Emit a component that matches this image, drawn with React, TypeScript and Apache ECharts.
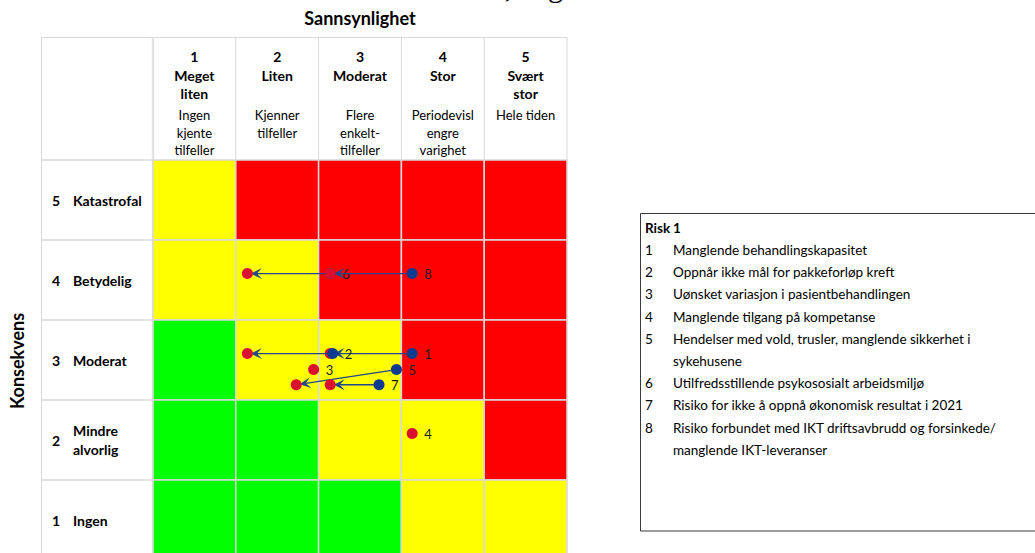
import React, { useEffect, useRef } from "react";
import * as echarts from "echarts";

// Likelihood columns (header) and consequence rows
const likelihoodNumbers = ["1", "2", "3", "4", "5"];
const likelihoodNames = [["Meget", "liten"], ["Liten"], ["Moderat"], ["Stor"], ["Svært", "stor"]];
const likelihoodDescriptions = [
  ["Ingen", "kjente", "tilfeller"],
  ["Kjenner", "tilfeller"],
  ["Flere", "enkelt-", "tilfeller"],
  ["Periodevisl", "engre", "varighet"],
  ["Hele tiden"],
];
const consequenceNumbers = ["5", "4", "3", "2", "1"];
const consequenceNames = [["Katastrofal"], ["Betydelig"], ["Moderat"], ["Mindre", "alvorlig"], ["Ingen"]];

// Risk level per cell: rows are consequence 5..1, columns likelihood 1..5 (0 green, 1 yellow, 2 red)
const riskLevels = [
  [1, 2, 2, 2, 2],
  [1, 1, 2, 2, 2],
  [0, 1, 1, 2, 2],
  [0, 0, 1, 1, 2],
  [0, 0, 0, 1, 1],
];
const levelColors = ["#00ff00", "#ffff00", "#ff0000"];

// Risks: initial position (blue) and position after measures (red)
const riskIds = ["1", "2", "3", "4", "5", "6", "7", "8"];
const initialLikelihood = [3.63, 2.67, null, null, 3.44, 2.64, 3.23, 3.63];
const initialConsequence = [3.08, 3.08, null, null, 2.88, 4.08, 2.69, 4.08];
const targetLikelihood = [2.64, 1.64, 2.44, 3.63, 2.23, 1.64, 2.64, 2.64];
const targetConsequence = [3.08, 3.08, 2.88, 2.08, 2.69, 4.08, 2.69, 4.08];
const riskNames = [
  "Manglende behandlingskapasitet",
  "Oppnår ikke mål for pakkeforløp kreft",
  "Uønsket variasjon i pasientbehandlingen",
  "Manglende tilgang på kompetanse",
  "Hendelser med vold, trusler, manglende sikkerhet i sykehusene",
  "Utilfredsstillende psykososialt arbeidsmiljø",
  "Risiko for ikke å oppnå økonomisk resultat i 2021",
  "Risiko forbundet med IKT driftsavbrudd og forsinkede/ manglende IKT-leveranser",
];

const FONT = "Lato, 'Noto Sans', sans-serif";
const LINE = "#d9d9d9";
const BLUE = "#0c3b8f";
const RED = "#db0f2f";
const ARROW = "#23458e";

// Table geometry; the bottom row runs past the visible area
const VIEW_W = 1035;
const VIEW_H = 553;
const TABLE_LEFT = 41;
const TABLE_TOP = 37;
const GRID_LEFT = 153;
const GRID_TOP = 160;
const CELL_W = 82.8;
const CELL_H = 80;
const CHART_H = GRID_TOP + CELL_H * 5;

function wrapText(text: string, maxWidth: number, font: string): string[] {
  const ctx = document.createElement("canvas").getContext("2d");
  if (!ctx) return [text];
  ctx.font = font;
  const words = text.split(" ");
  const lines: string[] = [];
  let cur = "";
  for (const w of words) {
    const test = cur ? cur + " " + w : w;
    if (cur && ctx.measureText(test).width > maxWidth) {
      lines.push(cur);
      cur = w;
    } else {
      cur = test;
    }
  }
  if (cur) lines.push(cur);
  return lines;
}

function buildGraphics() {
  const els: any[] = [];
  const gridRight = GRID_LEFT + CELL_W * 5;
  const gridBottom = GRID_TOP + CELL_H * 5;

  // Tail of the preceding page line
  els.push({
    type: "text", x: 563, y: -14,
    style: { text: ", dag", font: "30px 'Liberation Serif', serif", fill: "#000", align: "right", verticalAlign: "middle" },
  });

  // Table frame and header / row-label cell borders
  els.push({ type: "line", shape: { x1: TABLE_LEFT, y1: TABLE_TOP + 0.5, x2: gridRight, y2: TABLE_TOP + 0.5 }, style: { stroke: LINE, lineWidth: 1 } });
  els.push({ type: "line", shape: { x1: TABLE_LEFT + 0.5, y1: TABLE_TOP, x2: TABLE_LEFT + 0.5, y2: gridBottom }, style: { stroke: LINE, lineWidth: 1 } });
  for (let k = 1; k <= 5; k++) {
    const x = GRID_LEFT + k * CELL_W;
    els.push({ type: "line", shape: { x1: x, y1: TABLE_TOP, x2: x, y2: GRID_TOP }, style: { stroke: LINE, lineWidth: 1 } });
  }
  els.push({ type: "line", shape: { x1: GRID_LEFT, y1: TABLE_TOP, x2: GRID_LEFT, y2: gridBottom }, style: { stroke: "#e3e3e3", lineWidth: 2.5 } });
  for (let k = 0; k <= 5; k++) {
    const y = GRID_TOP + k * CELL_H;
    els.push({ type: "line", shape: { x1: TABLE_LEFT, y1: y, x2: GRID_LEFT, y2: y }, style: { stroke: LINE, lineWidth: 1.5 } });
  }

  // Axis titles
  els.push({
    type: "text", x: (GRID_LEFT + gridRight) / 2, y: 18,
    style: { text: "Sannsynlighet", font: `bold 18px ${FONT}`, fill: "#000", align: "center", verticalAlign: "middle" },
  });
  els.push({
    type: "text", x: 17, y: 361, rotation: Math.PI / 2,
    style: { text: "Konsekvens", font: `bold 18px ${FONT}`, fill: "#000", align: "center", verticalAlign: "middle" },
  });

  // Column headers
  likelihoodNumbers.forEach((num, i) => {
    const cx = GRID_LEFT + CELL_W * (i + 0.5);
    const bold = [num, ...likelihoodNames[i]];
    bold.forEach((t, j) => {
      els.push({
        type: "text", x: cx, y: 56.5 + j * 18.5,
        style: { text: t, font: `bold 14px ${FONT}`, fill: "#000", align: "center", verticalAlign: "middle" },
      });
    });
    likelihoodDescriptions[i].forEach((t, j) => {
      els.push({
        type: "text", x: cx, y: 115 + j * 17.5,
        style: { text: t, font: `13px ${FONT}`, fill: "#000", align: "center", verticalAlign: "middle" },
      });
    });
  });

  // Row labels
  consequenceNumbers.forEach((num, i) => {
    const cy = GRID_TOP + CELL_H * (i + 0.5);
    els.push({
      type: "text", x: 56, y: cy,
      style: { text: num, font: `bold 14px ${FONT}`, fill: "#000", align: "center", verticalAlign: "middle" },
    });
    const names = consequenceNames[i];
    names.forEach((t, j) => {
      els.push({
        type: "text", x: 73, y: cy + (j - (names.length - 1) / 2) * 18.5,
        style: { text: t, font: `bold 14px ${FONT}`, fill: "#000", align: "left", verticalAlign: "middle" },
      });
    });
  });

  // Risk list box
  els.push({
    type: "rect", shape: { x: 640.5, y: 213.5, width: 420, height: 317.5 },
    style: { fill: "#fff", stroke: "#3a3a3a", lineWidth: 1 },
  });
  els.push({ type: "text", x: 645, y: 228, style: { text: "Risk", font: `bold 13.5px ${FONT}`, fill: "#000", verticalAlign: "middle" } });
  els.push({ type: "text", x: 673, y: 228, style: { text: "1", font: `bold 13.5px ${FONT}`, fill: "#000", verticalAlign: "middle" } });
  let line = 0;
  const itemFont = `13.5px ${FONT}`;
  riskIds.forEach((id, i) => {
    const y0 = 250 + line * 22.2;
    els.push({ type: "text", x: 645, y: y0, style: { text: id, font: itemFont, fill: "#000", verticalAlign: "middle" } });
    const lines = wrapText(riskNames[i], 332, itemFont);
    lines.forEach((t, j) => {
      els.push({ type: "text", x: 673, y: y0 + j * 22.2, style: { text: t, font: itemFont, fill: "#000", verticalAlign: "middle" } });
    });
    line += lines.length;
  });
  return els;
}

export default function App() {
  const ref = useRef<HTMLDivElement>(null);

  useEffect(() => {
    if (!ref.current) return;
    const chart = echarts.init(ref.current, undefined, { renderer: "svg" });

    const cellData: number[][] = [];
    riskLevels.forEach((row, r) => {
      row.forEach((level, c) => {
        cellData.push([c + 1, 5 - r, level]);
      });
    });

    const riskData = riskIds.map((id, i) => {
      const hasInit = initialLikelihood[i] != null;
      return {
        name: id,
        value: [
          targetLikelihood[i],
          targetConsequence[i],
          hasInit ? (initialLikelihood[i] as number) : targetLikelihood[i],
          hasInit ? (initialConsequence[i] as number) : targetConsequence[i],
          hasInit ? 1 : 0,
        ],
      };
    });

    chart.setOption({
      animation: false,
      grid: { left: GRID_LEFT, top: GRID_TOP, width: CELL_W * 5, height: CELL_H * 5 },
      xAxis: { type: "value", min: 0.5, max: 5.5, show: false },
      yAxis: { type: "value", min: 0.5, max: 5.5, show: false },
      series: [
        {
          type: "custom",
          silent: true,
          data: cellData,
          encode: { x: 0, y: 1 },
          renderItem: (_params: any, api: any) => {
            const x = api.value(0);
            const y = api.value(1);
            const p0 = api.coord([x - 0.5, y + 0.5]);
            const p1 = api.coord([x + 0.5, y - 0.5]);
            return {
              type: "rect",
              shape: { x: p0[0], y: p0[1], width: p1[0] - p0[0], height: p1[1] - p0[1] },
              style: { fill: levelColors[api.value(2)], stroke: LINE, lineWidth: 1.5 },
            };
          },
          z: 1,
        },
        {
          type: "custom",
          silent: true,
          data: riskData,
          encode: { x: 0, y: 1 },
          renderItem: (params: any, api: any) => {
            const t = api.coord([api.value(0), api.value(1)]);
            const hasInit = api.value(4) === 1;
            const s = hasInit ? api.coord([api.value(2), api.value(3)]) : t;
            const children: any[] = [];
            if (hasInit) {
              const dx = t[0] - s[0];
              const dy = t[1] - s[1];
              const len = Math.hypot(dx, dy) || 1;
              const ux = dx / len;
              const uy = dy / len;
              const nx = -uy;
              const ny = ux;
              const tip = [t[0] - ux * 3.5, t[1] - uy * 3.5];
              const L = 11;
              const W = 5.5;
              const back = [tip[0] - ux * L, tip[1] - uy * L];
              const notch = [tip[0] - ux * L * 0.55, tip[1] - uy * L * 0.55];
              children.push({
                type: "line",
                shape: { x1: s[0], y1: s[1], x2: notch[0], y2: notch[1] },
                style: { stroke: ARROW, lineWidth: 1.4 },
              });
              children.push({
                type: "polygon",
                shape: {
                  points: [
                    tip,
                    [back[0] + nx * W, back[1] + ny * W],
                    notch,
                    [back[0] - nx * W, back[1] - ny * W],
                  ],
                },
                style: { fill: ARROW },
              });
              children.push({ type: "circle", shape: { cx: s[0], cy: s[1], r: 5.5 }, style: { fill: BLUE } });
            }
            children.push({ type: "circle", shape: { cx: t[0], cy: t[1], r: 5.5 }, style: { fill: RED } });
            children.push({
              type: "text",
              x: s[0] + 12,
              y: s[1] + 0.5,
              style: {
                text: riskIds[params.dataIndex],
                font: `13px ${FONT}`,
                fill: "#1a1a1a",
                align: "left",
                verticalAlign: "middle",
              },
            });
            return { type: "group", children };
          },
          z: 5,
        },
      ],
      graphic: { elements: buildGraphics() },
    });

    return () => chart.dispose();
  }, []);

  return (
    <div
      style={{ position: "absolute", left: 0, top: 0, width: VIEW_W, height: VIEW_H, overflow: "hidden", background: "#fff" }}
    >
      <div ref={ref} style={{ width: VIEW_W, height: CHART_H }} />
    </div>
  );
}
